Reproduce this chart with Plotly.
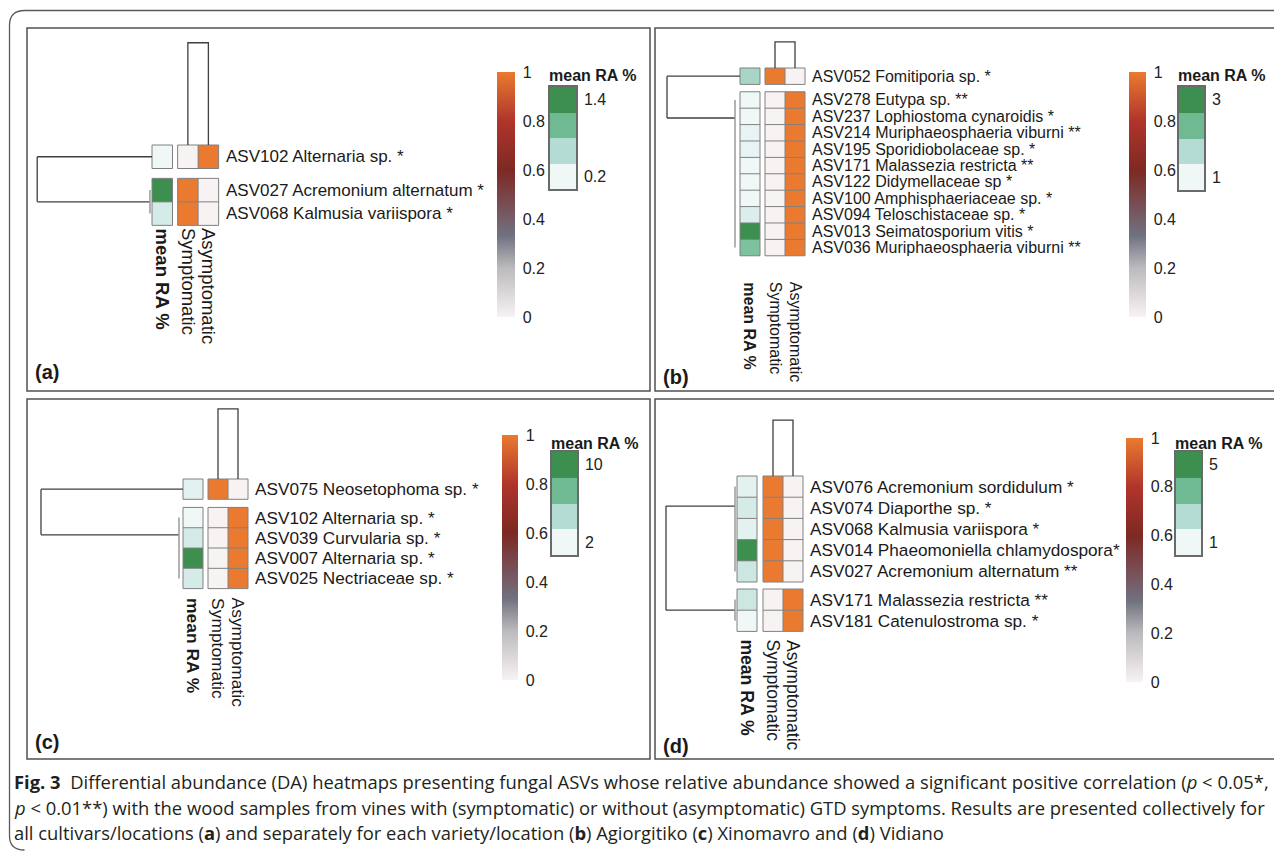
import plotly.graph_objects as go

W, H = 1282, 854
OFF = 8  # the page body margin offsets the figure by 8 px

# ------------------------------------------------------------------ DATA
heat_cols = ["Symptomatic", "Asymptomatic"]
meanra_label = "mean RA %"

# (a) all cultivars / locations
a_rows = ["ASV102 Alternaria sp. *", "ASV027 Acremonium alternatum *",
          "ASV068 Kalmusia variispora *"]
a_groups = [1, 2]
a_symptomatic = [0, 1, 1]
a_asymptomatic = [1, 0, 0]
a_mean_ra = [0.2, 1.4, 0.38]
a_legend_vals = [0.2, 0.6, 1.0, 1.4]
a_legend_text = ["0.2", "1.4"]
a_row_dendro = dict(root=5.6, sub=0.1, join=[0.0, 0.5])
a_col_dendro = 4.35

# (b) Agiorgitiko
b_rows = ["ASV052 Fomitiporia sp. *", "ASV278 Eutypa sp. **",
          "ASV237 Lophiostoma cynaroidis *", "ASV214 Muriphaeosphaeria viburni **",
          "ASV195 Sporidiobolaceae sp. *", "ASV171 Malassezia restricta **",
          "ASV122 Didymellaceae sp *", "ASV100 Amphisphaeriaceae sp. *",
          "ASV094 Teloschistaceae sp. *", "ASV013 Seimatosporium vitis *",
          "ASV036 Muriphaeosphaeria viburni **"]
b_groups = [1, 10]
b_symptomatic = [1, 0, 0, 0, 0, 0, 0, 0, 0, 0, 0]
b_asymptomatic = [0, 1, 1, 1, 1, 1, 1, 1, 1, 1, 1]
b_mean_ra = [1.8, 0.6, 0.7, 1.08, 1.08, 0.8, 0.7, 0.8, 1.22, 3.0, 2.2]
b_legend_vals = [1.0, 1.667, 2.333, 3.0]
b_legend_text = ["1", "3"]
b_row_dendro = dict(root=3.65, sub=0.25, join=[0.0, 1.1])
b_col_dendro = 1.59

# (c) Xinomavro
c_rows = ["ASV075 Neosetophoma sp. *", "ASV102 Alternaria sp. *",
          "ASV039 Curvularia sp. *", "ASV007 Alternaria sp. *",
          "ASV025 Nectriaceae sp. *"]
c_groups = [1, 4]
c_symptomatic = [1, 0, 0, 0, 0]
c_asymptomatic = [0, 1, 1, 1, 1]
c_mean_ra = [2.56, 2.0, 3.2, 10.0, 3.2]
c_legend_vals = [2.0, 4.667, 7.333, 10.0]
c_legend_text = ["2", "10"]
c_row_dendro = dict(root=7.1, sub=0.2, join=[0.0, 0.85])
c_col_dendro = 3.45

# (d) Vidiano
d_rows = ["ASV076 Acremonium sordidulum *", "ASV074 Diaporthe sp. *",
          "ASV068 Kalmusia variispora *", "ASV014 Phaeomoniella chlamydospora*",
          "ASV027 Acremonium alternatum **", "ASV171 Malassezia restricta **",
          "ASV181 Catenulostroma sp. *"]
d_groups = [5, 2]
d_symptomatic = [1, 1, 1, 1, 1, 0, 0]
d_asymptomatic = [0, 0, 0, 0, 0, 1, 1]
d_mean_ra = [1.28, 1.6, 1.28, 5.0, 1.8, 1.8, 1.0]
d_legend_vals = [1.0, 2.333, 3.667, 5.0]
d_legend_text = ["1", "5"]
d_row_dendro = dict(root=3.55, sub=0.1, join=[0.92, 0.5])
d_col_dendro = 2.64

caption_lines = [
    "<b>Fig. 3</b>  Differential abundance (DA) heatmaps presenting fungal ASVs whose relative "
    "abundance showed a significant positive correlation (<i>p</i> &lt; 0.05*,",
    "<i>p</i> &lt; 0.01**) with the wood samples from vines with (symptomatic) or without "
    "(asymptomatic) GTD symptoms. Results are presented collectively for",
    "all cultivars/locations (<b>a</b>) and separately for each variety/location (<b>b</b>) "
    "Agiorgitiko (<b>c</b>) Xinomavro and (<b>d</b>) Vidiano",
]

# ------------------------------------------------------------------ STYLE / GEOMETRY (page pixels)
orange_scale = [[0.0, "#F8F3F3"], [0.2, "#BCBABD"], [0.33, "#707380"],
                [0.45, "#785058"], [0.6, "#7D2923"], [0.8, "#B0352B"], [1.0, "#EA7A30"]]
green_scale = [[0.0, "#EFF7F7"], [1 / 3, "#B5DCD4"], [2 / 3, "#6FBA92"], [1.0, "#3D8F50"]]

geom = {
    "a": dict(frame=(27, 28, 650, 391), ox=152, oy=145, cw=20.5, ch=23.5, gap=0.25, rgap=0.42,
              cbar=(497, 515, 72, 317), legend=(550, 576, 87, 189), title_y=76,
              letter=(33, 372), font=17, cfont=18.5, lab_gap=1),
    "b": dict(frame=(655, 28, 1277, 391), ox=740, oy=68, cw=20, ch=16.4, gap=0.25, rgap=0.45,
              cbar=(1129, 1146, 72, 317), legend=(1179, 1204, 87, 190), title_y=76,
              letter=(661, 377), font=16, cfont=16, lab_gap=24),
    "c": dict(frame=(27, 399, 650, 759), ox=183, oy=479, cw=20, ch=20.3, gap=0.25, rgap=0.4,
              cbar=(502, 518, 435, 680), legend=(552, 577, 452, 555), title_y=443,
              letter=(33, 742), font=17.2, cfont=17.4, lab_gap=7),
    "d": dict(frame=(655, 399, 1277, 759), ox=737, oy=476, cw=20, ch=21.2, gap=0.3, rgap=0.33,
              cbar=(1126, 1143, 438, 682), legend=(1176, 1201, 452, 555), title_y=443,
              letter=(661, 746), font=17.2, cfont=17.6, lab_gap=6),
}

FONT = "Liberation Sans, Arial, sans-serif"
GRID = "#808080"
DARK = "#3f3f3f"


def fx(px):
    return (px - OFF) / W


def fy(py):
    return 1 - (py - OFF) / H


panels = [
    ("a", a_rows, a_groups, a_symptomatic, a_asymptomatic, a_mean_ra, a_legend_vals,
     a_legend_text, a_row_dendro, a_col_dendro),
    ("b", b_rows, b_groups, b_symptomatic, b_asymptomatic, b_mean_ra, b_legend_vals,
     b_legend_text, b_row_dendro, b_col_dendro),
    ("c", c_rows, c_groups, c_symptomatic, c_asymptomatic, c_mean_ra, c_legend_vals,
     c_legend_text, c_row_dendro, c_col_dendro),
    ("d", d_rows, d_groups, d_symptomatic, d_asymptomatic, d_mean_ra, d_legend_vals,
     d_legend_text, d_row_dendro, d_col_dendro),
]

fig = go.Figure()
lay = {}
annotations = []
shapes = []

for i, (key, rows, groups, sym, asym, mra, lvals, ltext, rd, cd) in enumerate(panels):
    G = geom[key]
    pn, ln = i + 1, i + 5
    xa, ya = ("x", "y") if pn == 1 else (f"x{pn}", f"y{pn}")
    xl, yl = f"x{ln}", f"y{ln}"
    ca_o = "coloraxis" if i == 0 else f"coloraxis{2 * i + 1}"
    ca_g = f"coloraxis{2 * i + 2}"
    g = G["gap"]
    hx = [1 + g, 2 + g, 3 + g]

    # row layout (in cell units)
    starts = []
    pos = 0.0
    for n in groups:
        starts.append(pos)
        pos += n + G["rgap"]
    total = pos - G["rgap"]

    gx, gy = [], []
    idx = 0
    for gi, n in enumerate(groups):
        s = starts[gi]
        edges = [s + k for k in range(n + 1)]
        sel = list(range(idx, idx + n))
        fig.add_trace(go.Heatmap(z=[[mra[r]] for r in sel], x=[0, 1], y=edges,
                                 coloraxis=ca_g, xaxis=xa, yaxis=ya, hoverinfo="skip"))
        fig.add_trace(go.Heatmap(z=[[sym[r], asym[r]] for r in sel], x=hx, y=edges,
                                 coloraxis=ca_o, xaxis=xa, yaxis=ya, hoverinfo="skip"))
        for xe in ([0, 1], hx):
            for e in edges:
                gx += [xe[0], xe[-1], None]
                gy += [e, e, None]
            for x in xe:
                gx += [x, x, None]
                gy += [edges[0], edges[-1], None]
        for k, r in enumerate(sel):
            annotations.append(dict(x=hx[-1] + 5 / G["cw"], y=s + k + 0.5, xref=xa, yref=ya,
                                    text=rows[r], showarrow=False, xanchor="left",
                                    yanchor="middle", font=dict(size=G["font"])))
        idx += n
    fig.add_trace(go.Scatter(x=gx, y=gy, mode="lines", line=dict(color=GRID, width=1),
                             xaxis=xa, yaxis=ya, hoverinfo="skip", showlegend=False))

    # row dendrogram
    dx, dy, bx, by = [], [], [], []
    joins = []
    for gi, n in enumerate(groups):
        s = starts[gi]
        jy = s + 0.5 + rd["join"][gi]
        joins.append(jy)
        end = -rd["sub"] if n > 1 else 0
        dx += [-rd["root"], end, None]
        dy += [jy, jy, None]
        if n > 1:
            bx += [-rd["sub"], -rd["sub"], None]
            by += [s + 0.5, s + n - 0.5, None]
    dx += [-rd["root"], -rd["root"], None]
    dy += [joins[0], joins[-1], None]
    # column dendrogram
    c1, c2 = 1 + g + 0.5, 2 + g + 0.5
    dx += [c1, c1, c2, c2, None]
    dy += [0, -cd, -cd, 0, None]
    fig.add_trace(go.Scatter(x=dx, y=dy, mode="lines", line=dict(color=DARK, width=1.3),
                             xaxis=xa, yaxis=ya, hoverinfo="skip", showlegend=False))
    fig.add_trace(go.Scatter(x=bx, y=by, mode="lines", line=dict(color="#9a9a9a", width=1.5),
                             xaxis=xa, yaxis=ya, hoverinfo="skip", showlegend=False))

    # column labels
    ylab = total + G["lab_gap"] / G["ch"]
    for xc, txt in [(0.5, "<b>" + meanra_label + "</b>"), (c1, heat_cols[0]), (c2, heat_cols[1])]:
        annotations.append(dict(x=xc, y=ylab, xref=xa, yref=ya, text=txt, textangle=90,
                                showarrow=False, xanchor="center", yanchor="top",
                                font=dict(size=G["cfont"])))

    # panel axes
    f0x, f0y, f1x, f1y = G["frame"]
    X0, X1, Y0, Y1 = f0x + 2, f1x - 2, f0y + 2, f1y - 2
    lay["xaxis" if pn == 1 else f"xaxis{pn}"] = dict(
        domain=[fx(X0), fx(X1)], range=[(X0 - G["ox"]) / G["cw"], (X1 - G["ox"]) / G["cw"]],
        visible=False, anchor=ya, fixedrange=True)
    lay["yaxis" if pn == 1 else f"yaxis{pn}"] = dict(
        domain=[fy(Y1), fy(Y0)], range=[(Y1 - G["oy"]) / G["ch"], (Y0 - G["oy"]) / G["ch"]],
        visible=False, anchor=xa, fixedrange=True)

    # colour axes
    cb = G["cbar"]
    lay[ca_o] = dict(colorscale=orange_scale, cmin=0, cmax=1, colorbar=dict(
        x=fx(cb[0]), xanchor="left", xpad=0, y=fy((cb[2] + cb[3]) / 2), yanchor="middle",
        ypad=0, len=cb[3] - cb[2], lenmode="pixels", thickness=cb[1] - cb[0],
        thicknessmode="pixels", outlinewidth=0, tickvals=[0, 0.2, 0.4, 0.6, 0.8, 1],
        ticktext=["0", "0.2", "0.4", "0.6", "0.8", "1"], ticks="outside", ticklen=5,
        tickcolor="rgba(0,0,0,0)", tickfont=dict(size=16, color="#222")))
    lay[ca_g] = dict(colorscale=green_scale, cmin=lvals[0], cmax=lvals[-1], showscale=False)

    # mean RA legend (small heatmap)
    lg = G["legend"]
    fig.add_trace(go.Heatmap(z=[[v] for v in lvals], x=[0], y=[0, 1, 2, 3], coloraxis=ca_g,
                             xaxis=xl, yaxis=yl, hoverinfo="skip"))
    lay[f"xaxis{ln}"] = dict(domain=[fx(lg[0]), fx(lg[1])], range=[-0.5, 0.5], anchor=yl,
                             showline=True, mirror=True, linecolor="#6a6a6a", linewidth=1.5,
                             showticklabels=False, ticks="", showgrid=False, zeroline=False,
                             fixedrange=True)
    lay[f"yaxis{ln}"] = dict(domain=[fy(lg[3]), fy(lg[2])], range=[-0.5, 3.5], anchor=xl,
                             side="right", showline=True, mirror=True, linecolor="#6a6a6a",
                             linewidth=1.5, tickvals=[0, 3], ticktext=ltext, ticks="outside",
                             ticklen=3, tickcolor="rgba(0,0,0,0)", showgrid=False,
                             zeroline=False, tickfont=dict(size=16, color="#222"),
                             fixedrange=True)
    annotations.append(dict(x=fx(lg[0] - 3), y=fy(G["title_y"]), xref="paper", yref="paper",
                            text="<b>" + meanra_label + "</b>", showarrow=False,
                            xanchor="left", yanchor="middle", font=dict(size=16)))

    # frame + panel letter
    shapes.append(dict(type="rect", xref="paper", yref="paper", x0=fx(f0x), x1=fx(f1x),
                       y0=fy(f1y), y1=fy(f0y), line=dict(color="#505050", width=1.5)))
    annotations.append(dict(x=fx(G["letter"][0]), y=fy(G["letter"][1]), xref="paper",
                            yref="paper", text=f"<b>({key})</b>", showarrow=False,
                            xanchor="left", yanchor="middle", font=dict(size=20)))

# outer rounded frame
r = 15
path = (f"M {fx(9.5)},{fy(836)} Q {fx(9.5)},{fy(850)} {fx(9.5 + r)},{fy(850)} "
        f"M {fx(9.5)},{fy(836)} L {fx(9.5)},{fy(10.5 + r)} "
        f"Q {fx(9.5)},{fy(10.5)} {fx(9.5 + r)},{fy(10.5)} L {fx(1290)},{fy(10.5)}")
shapes.append(dict(type="path", xref="paper", yref="paper", path=path,
                   line=dict(color="#5a5a5a", width=1.3)))

# caption
for k, (txt, yy) in enumerate(zip(caption_lines, [781, 807, 832])):
    annotations.append(dict(x=fx(12), y=fy(yy), xref="paper", yref="paper", text=txt,
                            showarrow=False, xanchor="left", yanchor="middle",
                            font=dict(size=18.4, family="Open Sans, Liberation Sans, sans-serif",
                                      color="#231f20")))

fig.update_layout(width=W, height=H, margin=dict(l=0, r=0, t=0, b=0), autosize=False,
                  paper_bgcolor="white", plot_bgcolor="rgba(0,0,0,0)", showlegend=False,
                  font=dict(family=FONT, color="#1a1a1a"), annotations=annotations,
                  shapes=shapes, **lay)

fig.write_html("out.html")
